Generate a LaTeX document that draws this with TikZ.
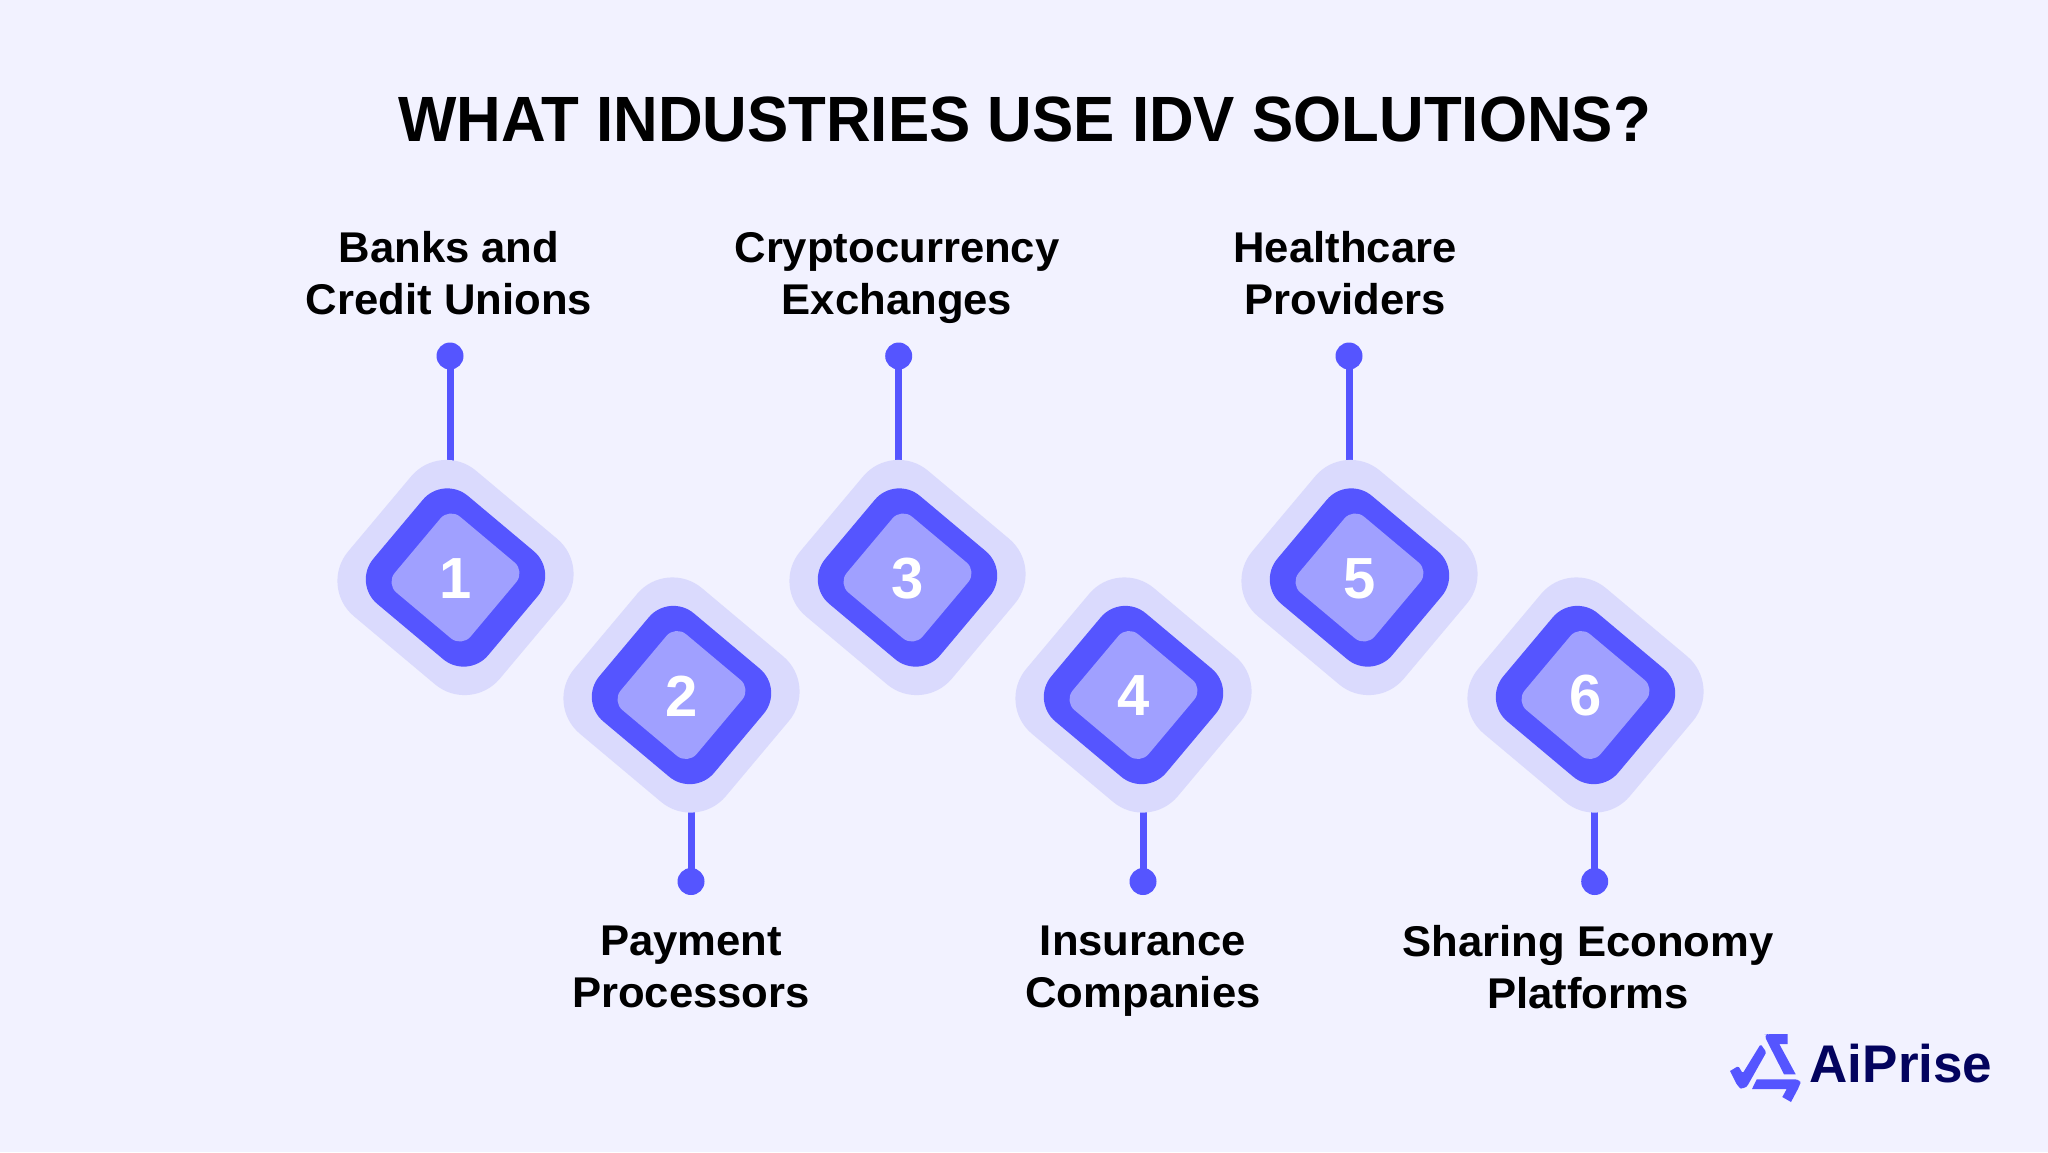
\documentclass[tikz,border=0pt]{standalone}
\usepackage{fontspec}
\setmainfont{Liberation Sans}
\usetikzlibrary{positioning}
\usetikzlibrary{backgrounds}
\definecolor{pagebg}{HTML}{F2F2FF}
\definecolor{haloblue}{HTML}{DADAFD}
\definecolor{mainblue}{HTML}{5555FF}
\definecolor{coreblue}{HTML}{A0A0FF}
\definecolor{logonavy}{HTML}{03035E}

\begin{document}
\begin{tikzpicture}[x = 1pt, y = -1pt]
  \tikzstyle{halo}=[rectangle, draw = none, fill = haloblue, rotate = -40, minimum width = 198pt, minimum height = 190pt, rounded corners = 46pt, on grid]
  \tikzstyle{ring}=[rectangle, draw = none, fill = mainblue, rotate = -40, minimum width = 150pt, minimum height = 141pt, rounded corners = 32pt]
  \tikzstyle{core}=[rectangle, draw = none, fill = coreblue, rotate = -40, minimum size = 99pt, rounded corners = 14pt]
  \tikzstyle{number}=[text = white, xshift = 0.5pt, yshift = -1pt, font = \fontsize{58}{58}\selectfont\bfseries]
  \tikzstyle{dot}=[circle, fill = mainblue, inner sep = 0pt, minimum size = 27pt]
  \tikzstyle{stem}=[draw = mainblue, line width = 7pt]
  \tikzstyle{caption}=[align = center, text = black, font = \fontsize{43}{52}\selectfont\bfseries\addfontfeature{FakeStretch=1.015}]

  \useasboundingbox (0,0) rectangle (2048,1152);

  \node[font = \fontsize{64}{64}\selectfont\bfseries\addfontfeature{FakeStretch=0.966}] (title) at (1024.5,119) {WHAT INDUSTRIES USE IDV SOLUTIONS?};

  \node[halo] (h1) at (455.5,577.5) { };
  \node[halo] (h2) [below right = 117.5pt and 226pt of h1] { };
  \node[halo] (h3) [above right = 117.5pt and 226pt of h2] { };
  \node[halo] (h4) [below right = 117.5pt and 226pt of h3] { };
  \node[halo] (h5) [above right = 117.5pt and 226pt of h4] { };
  \node[halo] (h6) [below right = 117.5pt and 226pt of h5] { };

  \node[ring] (r1) at (h1) { };
  \node[ring] (r2) at (h2) { };
  \node[ring] (r3) at (h3) { };
  \node[ring] (r4) at (h4) { };
  \node[ring] (r5) at (h5) { };
  \node[ring] (r6) at (h6) { };

  \node[core] (c1) at (h1) { };
  \node[core] (c2) at (h2) { };
  \node[core] (c3) at (h3) { };
  \node[core] (c4) at (h4) { };
  \node[core] (c5) at (h5) { };
  \node[core] (c6) at (h6) { };

  \node[number] (n1) at (h1) {1};
  \node[number] (n2) at (h2) {2};
  \node[number] (n3) at (h3) {3};
  \node[number] (n4) at (h4) {4};
  \node[number] (n5) at (h5) {5};
  \node[number] (n6) at (h6) {6};

  \node[dot] (d1) at (450,356) { };
  \node[dot] (d2) at (691,881.5) { };
  \node[dot] (d3) at (898.7,356) { };
  \node[dot] (d4) at (1143,881.5) { };
  \node[dot] (d5) at (1349,356) { };
  \node[dot] (d6) at (1594.7,881.5) { };

  \node[caption] (l1) at (449,273) {Banks and\\Credit Unions};
  \node[caption] (l2) at (691,967) {Payment\\Processors};
  \node[caption] (l3) at (897,278) {Cryptocurrency\\Exchanges};
  \node[caption] (l4) at (1143,971) {Insurance\\Companies};
  \node[caption] (l5) at (1345,273) {Healthcare\\Providers};
  \node[caption] (l6) at (1588,967) {Sharing Economy\\Platforms};

  % stems go under the halos
  \begin{scope}[on background layer]
    \fill[pagebg] (0,0) rectangle (2048,1152);
    \path (d1.center) edge [stem] (d1 |- h1)
          (d2.center) edge [stem] (d2 |- h2)
          (d3.center) edge [stem] (d3 |- h3)
          (d4.center) edge [stem] (d4 |- h4)
          (d5.center) edge [stem] (d5 |- h5)
          (d6.center) edge [stem] (d6 |- h6);
  \end{scope}

  % logo
  \fill[mainblue, rounded corners = 1.5pt] (1730,1071) -- (1738.3,1066) -- (1742.7,1073.3) -- (1760.7,1044) -- (1766.3,1052.3) -- (1747.3,1086) [rounded corners = 4pt] -- (1743,1089.5) -- (1738,1087) [sharp corners] -- cycle;
  \fill[mainblue] (1767,1041) [rounded corners = 4pt] -- (1764,1035) -- (1768,1034) [sharp corners] -- (1787.7,1034) -- (1787.7,1044) -- (1779.3,1044) -- (1795.7,1074.3) -- (1784,1074.3) -- cycle;
  \fill[mainblue] (1756.7,1079.3) -- (1794,1079.3) [rounded corners = 4pt] -- (1801,1080) -- (1800,1085) [sharp corners] -- (1791,1102) -- (1782.3,1097) -- (1786.7,1089) -- (1752,1089) -- cycle;
  \node[font = \fontsize{53}{53}\selectfont, text = logonavy] (logo) at (1901,1064) {\bfseries AiPrise};
\end{tikzpicture}
\end{document}
